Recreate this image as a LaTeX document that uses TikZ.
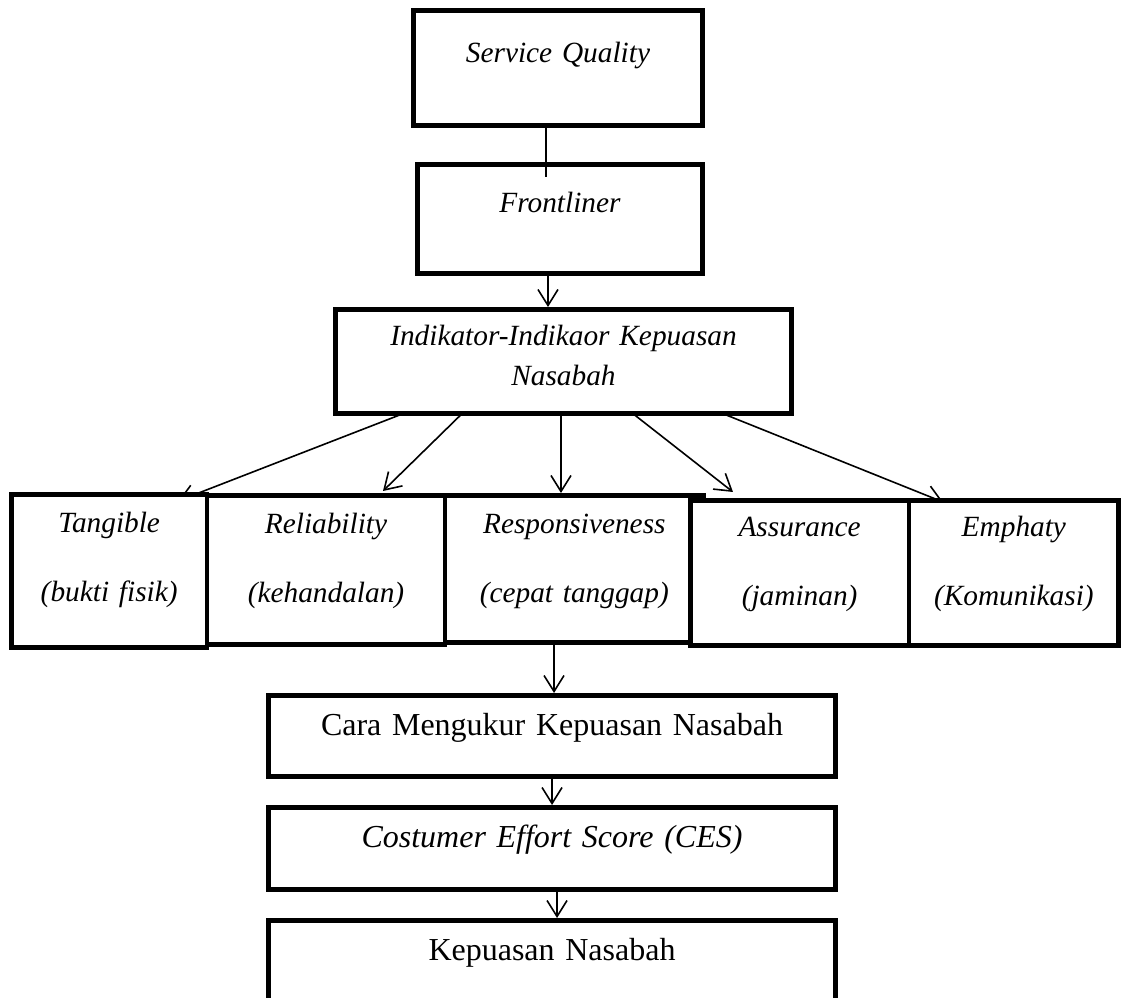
\documentclass[tikz,border=0pt]{standalone}
\usepackage{fontspec}
\setmainfont{Liberation Serif}
\usetikzlibrary{arrows.meta}
\pgfdeclarelayer{background}
\pgfsetlayers{background,main}

\begin{document}
\begin{tikzpicture}[x=0.75pt, y=-0.75pt]
% Styles
\tikzstyle{box} = [rectangle, draw=black, fill=white, line width=3.5pt, inner sep=0pt, outer sep=0pt, anchor=north west, align=center]
\tikzstyle{dimbox} = [box, font=\fontsize{22}{51.75}\selectfont\itshape]
\tikzstyle{mainbox} = [box, font=\fontsize{24}{29}\selectfont]
\tikzstyle{arrow} = [line width=1.2pt, -{Straight Barb[length=12pt, width=15pt]}]
\tikzstyle{link} = [line width=1.2pt]

\useasboundingbox (0,0) rectangle (1129,998);
\clip (0,0) rectangle (1129,998);

% Nodes
\node (sq) [dimbox, text width=217pt, text height=39.5pt, text depth=47pt] at (413.3,10.3) {Service Quality};
\node (front) [dimbox, text width=214pt, text height=36.5pt, text depth=45.5pt] at (417.3,164.3) {Frontliner};
\node (ind) [box, font=\fontsize{22}{30}\selectfont\itshape, text width=342.3pt, text height=26.8pt, text depth=51.5pt] at (335.3,309.3) {Indikator-Indikaor Kepuasan\\Nasabah};

\node (tang) [dimbox, text width=146.8pt, text height=29pt, text depth=86pt] at (11.3,494.3) {Tangible\\(bukti fisik)};
\node (rel) [dimbox, text width=178.5pt, text height=28.3pt, text depth=83.8pt] at (207,495.3) {Reliability\\(kehandalan)};
\node (resp) [dimbox, text width=194pt, text height=28.3pt, text depth=82.3pt] at (445,495.3) {Responsiveness\\(cepat tanggap)};
\node (assur) [dimbox, text width=164pt, text height=27.5pt, text depth=81.5pt] at (690.3,500.3) {Assurance\\(jaminan)};
\node (emph) [dimbox, text width=157.3pt, text height=27.5pt, text depth=81.5pt] at (909,500.3) {Emphaty\\(Komunikasi)};

\node (cara) [mainbox, text width=425.6pt, text height=30.5pt, text depth=30.5pt] at (268.3,695.3) {Cara Mengukur Kepuasan Nasabah};
\node (ces) [mainbox, text width=425.6pt, text height=29.8pt, text depth=32pt] at (268.3,807.3) {\itshape Costumer Effort Score (CES)};
\node (kep) [mainbox, text width=425.6pt, text height=29.8pt, text depth=37.5pt] at (268.3,920.3) {Kepuasan Nasabah};

% Arrows
\draw [link] ([shift={(-12,0)}]sq.south) -- ([shift={(-14,13)}]front.north);
\draw [arrow] ([shift={(-12,0)}]front.south) -- ([shift={(-15.5,-2.3)}]ind.north);
\begin{pgfonlayer}{background}
\draw [arrow] ([shift={(67.7,0)}]ind.south west) -- ([shift={(-29,6.7)}]tang.north east);
\draw [arrow] ([shift={(126.7,0)}]ind.south west) -- ([shift={(57,-4.3)}]rel.north);
\draw [arrow] ([shift={(-2.5,0)}]ind.south) -- ([shift={(-13.35,-2.3)}]resp.north);
\draw [arrow] ([shift={(69.5,0)}]ind.south) -- ([shift={(-66.65,-8.3)}]assur.north);
\draw [arrow] ([shift={(159.5,0)}]ind.south) -- ([shift={(34,1.7)}]emph.north west);
\end{pgfonlayer}
\draw [arrow] ([shift={(-20.35,0)}]resp.south) -- ([shift={(2,-2.3)}]cara.north);
\draw [arrow] (cara.south) -- ([shift={(0,-2.3)}]ces.north);
\draw [arrow] ([shift={(5,0)}]ces.south) -- ([shift={(5,-2.3)}]kep.north);

\end{tikzpicture}
\end{document}
